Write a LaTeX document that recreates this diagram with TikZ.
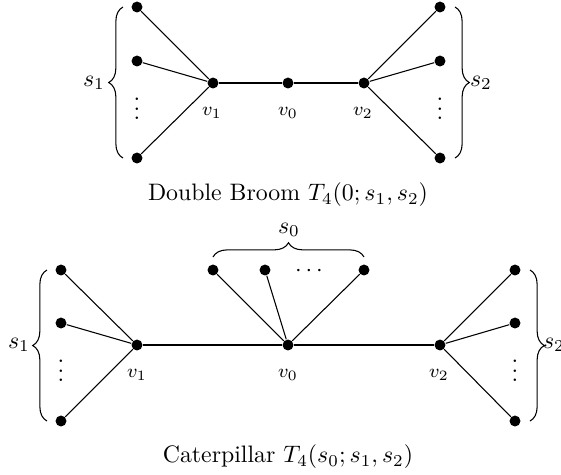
\documentclass[tikz,border=0pt]{standalone}
\usetikzlibrary{decorations.pathreplacing}
\begin{document}
\begin{tikzpicture}[x=0.42pt,y=-0.42pt,
  vertex/.style={circle,fill,inner sep=0pt,minimum size=4.6pt},
  edge/.style={line width=0.45pt},
  bracedeco/.style={decorate,decoration={brace,amplitude=6pt},line width=0.45pt},
  vlabel/.style={font=\footnotesize},
  caption/.style={}]
\useasboundingbox (0,0) rectangle (561,474);
\clip (0,0) rectangle (561,474);
% ---------- Double broom ----------
\node[vertex] (tv1) at (213,83) {};
\node[vertex] (tv0) at (288,83) {};
\node[vertex] (tv2) at (364,83) {};
\node[vertex] (tl1) at (137,7) {};
\node[vertex] (tl2) at (137,61) {};
\node[vertex] (tl3) at (137,158) {};
\node[vertex] (tr1) at (440,7) {};
\node[vertex] (tr2) at (440,61) {};
\node[vertex] (tr3) at (440,158) {};
\node (tdl) at (137,102) {$\vdots$};
\node (tdr) at (440,102) {$\vdots$};
\draw[edge] (tv1) -- (tv0) -- (tv2);
\draw[edge] (tv1) -- (tl1);
\draw[edge] (tv1) -- (tl2);
\draw[edge] (tv1) -- (tl3);
\draw[edge] (tv2) -- (tr1);
\draw[edge] (tv2) -- (tr2);
\draw[edge] (tv2) -- (tr3);
\node[vlabel] (ltv1) at (212,113) {$v_1$};
\node[vlabel] (ltv0) at (288,113) {$v_0$};
\node[vlabel] (ltv2) at (363,113) {$v_2$};
\draw[bracedeco] (123,158) -- (123,7);
\draw[bracedeco] (455,7) -- (455,158);
\node (ts1) at (94,83) {$s_1$};
\node (ts2) at (481,83) {$s_2$};
\node[caption] (cap1) at (288,195) {Double Broom $T_4(0;s_1,s_2)$};
% ---------- Caterpillar ----------
\node[vertex] (bv1) at (137,345) {};
\node[vertex] (bv0) at (288,345) {};
\node[vertex] (bv2) at (440,345) {};
\node[vertex] (bl1) at (61,270) {};
\node[vertex] (bl2) at (61,323) {};
\node[vertex] (bl3) at (61,421) {};
\node[vertex] (br1) at (515,270) {};
\node[vertex] (br2) at (515,323) {};
\node[vertex] (br3) at (515,421) {};
\node[vertex] (bt1) at (213,270) {};
\node[vertex] (bt2) at (265,270) {};
\node[vertex] (bt3) at (364,270) {};
\node (bdl) at (61,364) {$\vdots$};
\node (bdr) at (515,364) {$\vdots$};
\node (bdt) at (309,271) {$\cdots$};
\draw[edge] (bv1) -- (bv0) -- (bv2);
\draw[edge] (bv1) -- (bl1);
\draw[edge] (bv1) -- (bl2);
\draw[edge] (bv1) -- (bl3);
\draw[edge] (bv2) -- (br1);
\draw[edge] (bv2) -- (br2);
\draw[edge] (bv2) -- (br3);
\draw[edge] (bv0) -- (bt1);
\draw[edge] (bv0) -- (bt2);
\draw[edge] (bv0) -- (bt3);
\node[vlabel] (lbv1) at (137,375) {$v_1$};
\node[vlabel] (lbv0) at (288,375) {$v_0$};
\node[vlabel] (lbv2) at (439,375) {$v_2$};
\draw[bracedeco] (47,421) -- (47,270);
\draw[bracedeco] (530,270) -- (530,421);
\draw[bracedeco] (213,257) -- (364,257);
\node (bs1) at (19,345) {$s_1$};
\node (bs2) at (554,345) {$s_2$};
\node (bs0) at (289,230) {$s_0$};
\node[caption] (cap2) at (288,457) {Caterpillar $T_4(s_0;s_1,s_2)$};
\end{tikzpicture}
\end{document}
